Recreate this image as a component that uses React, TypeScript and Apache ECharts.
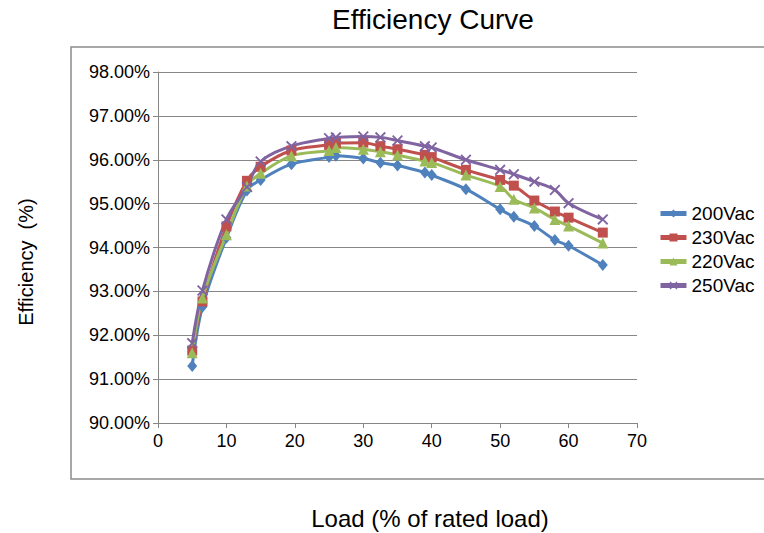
import React, { useEffect, useRef } from "react";
import * as echarts from "echarts";

const loads = [5, 6.5, 10, 13, 15, 19.5, 25, 26, 30, 32.5, 35, 39, 40, 45, 50, 52, 55, 58, 60, 65];
const v200 = [91.30, 92.65, 94.22, 95.30, 95.54, 95.90, 96.06, 96.09, 96.03, 95.93, 95.87, 95.71, 95.65, 95.33, 94.87, 94.70, 94.49, 94.17, 94.04, 93.60];
const v230 = [91.65, 92.77, 94.48, 95.52, 95.84, 96.21, 96.34, 96.38, 96.39, 96.31, 96.24, 96.11, 96.06, 95.77, 95.54, 95.41, 95.07, 94.82, 94.68, 94.34];
const v220 = [91.60, 92.85, 94.29, 95.40, 95.69, 96.09, 96.21, 96.28, 96.24, 96.18, 96.11, 95.97, 95.94, 95.65, 95.39, 95.10, 94.90, 94.64, 94.49, 94.10];
const v250 = [91.82, 93.02, 94.64, 95.38, 95.96, 96.31, 96.49, 96.51, 96.53, 96.51, 96.44, 96.31, 96.28, 96.00, 95.77, 95.67, 95.50, 95.31, 95.01, 94.64];

const seriesNames = ["200Vac", "230Vac", "220Vac", "250Vac"];
const seriesValues = [v200, v230, v220, v250];
const colors = ["#4F81BD", "#C0504D", "#9BBB59", "#8064A2"];
const xMark = "path://M0,1.2 L1.2,0 L5,3.8 L8.8,0 L10,1.2 L6.2,5 L10,8.8 L8.8,10 L5,6.2 L1.2,10 L0,8.8 L3.8,5 Z";
const symbols = ["diamond", "rect", "triangle", xMark];
const symbolSizes = [[10, 12], 10, 11, 11];

const titleText = "Efficiency Curve";
const xName = "Load (% of rated load)";
const yName = "Efficiency  (%)";

const FONT = "'Liberation Sans', Arial, sans-serif";

export default function App() {
  const ref = useRef<HTMLDivElement>(null);
  useEffect(() => {
    if (!ref.current) return;
    const chart = echarts.init(ref.current, null, { renderer: "svg" });
    chart.setOption({
      animation: false,
      backgroundColor: "#ffffff",
      textStyle: { fontFamily: FONT },
      grid: { left: 158, top: 72, right: 127, bottom: 110, containLabel: false },
      graphic: [
        {
          type: "rect",
          z: -10,
          shape: { x: 71, y: 47, width: 760, height: 432 },
          style: { fill: "none", stroke: "#8c8c8c", lineWidth: 1.5 },
        },
        {
          type: "text",
          x: 433,
          y: 19,
          style: { text: titleText, font: `28px ${FONT}`, fill: "#000", textAlign: "center", textVerticalAlign: "middle" },
        },
        {
          type: "text",
          x: 430,
          y: 518,
          style: { text: xName, font: `24px ${FONT}`, fill: "#000", textAlign: "center", textVerticalAlign: "middle" },
        },
        {
          type: "text",
          x: 26,
          y: 262,
          rotation: Math.PI / 2,
          style: { text: yName, font: `20px ${FONT}`, fill: "#000", textAlign: "center", textVerticalAlign: "middle" },
        },
      ],
      legend: {
        orient: "vertical",
        left: 653,
        top: 199,
        itemWidth: 26,
        itemHeight: 10,
        itemGap: 5,
        textStyle: { fontSize: 19, color: "#000", fontFamily: FONT },
        lineStyle: { width: 5 },
        data: seriesNames,
      },
      xAxis: {
        type: "value",
        min: 0,
        max: 70,
        interval: 10,
        axisLine: { show: true, lineStyle: { color: "#868686", width: 1 } },
        axisTick: { show: true, inside: false, length: 5, lineStyle: { color: "#868686" } },
        axisLabel: { color: "#000", fontSize: 18, margin: 9, fontFamily: FONT },
        splitLine: { show: false },
      },
      yAxis: {
        type: "value",
        min: 90,
        max: 98,
        interval: 1,
        axisLine: { show: true, lineStyle: { color: "#868686", width: 1 } },
        axisTick: { show: true, inside: false, length: 5, lineStyle: { color: "#868686" } },
        axisLabel: {
          color: "#000",
          fontSize: 18,
          margin: 8,
          fontFamily: FONT,
          formatter: (v: number) => v.toFixed(2) + "%",
        },
        splitLine: { show: true, lineStyle: { color: "#878787", width: 1 } },
      },
      series: seriesNames.map((name, i) => ({
        name,
        type: "line",
        smooth: 0.35,
        symbol: symbols[i],
        symbolSize: symbolSizes[i],
        showSymbol: true,
        itemStyle: { color: colors[i] },
        lineStyle: { color: colors[i], width: 3 },
        data: loads.map((x, j) => [x, seriesValues[i][j]]),
      })),
    });
    return () => chart.dispose();
  }, []);
  return (
    <div
      ref={ref}
      style={{ position: "absolute", left: 0, top: 0, width: 764, height: 533 }}
    />
  );
}
